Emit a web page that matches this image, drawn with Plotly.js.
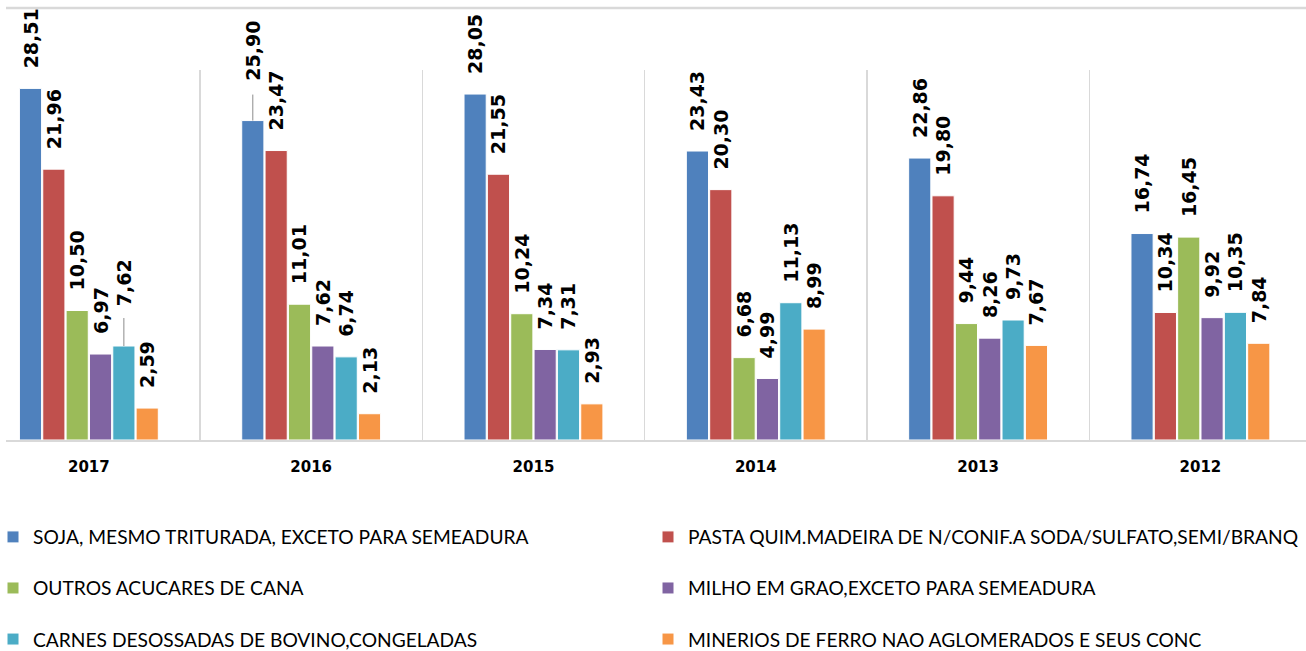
<!DOCTYPE html>
<html>
<head>
<meta charset="utf-8">
<script src="https://cdn.plot.ly/plotly-3.0.1.min.js"></script>
<style>html,body{margin:0;padding:0;background:#fff;}#chart{width:1306px;height:651px;}</style>
</head>
<body>
<div id="chart"></div>
<script>
// ---- data ----
const years = ["2017", "2016", "2015", "2014", "2013", "2012"];
const seriesNames = [
  "SOJA, MESMO TRITURADA, EXCETO PARA SEMEADURA",
  "PASTA QUIM.MADEIRA DE N/CONIF.A SODA/SULFATO,SEMI/BRANQ",
  "OUTROS ACUCARES DE CANA",
  "MILHO EM GRAO,EXCETO PARA SEMEADURA",
  "CARNES DESOSSADAS DE BOVINO,CONGELADAS",
  "MINERIOS DE FERRO NAO AGLOMERADOS E SEUS CONC"
];
const soja     = [28.51, 25.90, 28.05, 23.43, 22.86, 16.74];
const pasta    = [21.96, 23.47, 21.55, 20.30, 19.80, 10.34];
const acucares = [10.50, 11.01, 10.24, 6.68, 9.44, 16.45];
const milho    = [6.97, 7.62, 7.34, 4.99, 8.26, 9.92];
const carnes   = [7.62, 6.74, 7.31, 11.13, 9.73, 10.35];
const minerios = [2.59, 2.13, 2.93, 8.99, 7.67, 7.84];
const seriesValues = [soja, pasta, acucares, milho, carnes, minerios];
const colors = ["#4F81BD", "#C0504D", "#9BBB59", "#8064A2", "#4BACC6", "#F79646"];

// labels that were dragged upward in the original (with a leader line)
const liftedLabels = [
  {series: 0, year: "2016", px: 20},
  {series: 4, year: "2017", px: 22}
];

// ---- build ----
const Y_MAX = 30, PLOT_H = 370;
const pxPerUnit = PLOT_H / Y_MAX;
const NBSP_PX = 6.6;
const PAD = "\u00a0\u00a0\u2009";
function fmt(v) { return v.toFixed(2).replace(".", ","); }
const legendIds = ["legend", "legend", "legend2", "legend2", "legend3", "legend3"];
const labelFont = {family: "DejaVu Sans", size: 19, weight: "bold", color: "#000"};

const traces = seriesValues.map((vals, i) => {
  const lifts = years.map(y => {
    const l = liftedLabels.find(d => d.series === i && d.year === y);
    return l ? l.px : 0;
  });
  const text = vals.map((v, k) => PAD + "\u00a0".repeat(Math.round(lifts[k] / NBSP_PX)) + fmt(v));
  const hasLift = lifts.some(p => p > 0);
  const tr = {
    type: "bar",
    name: seriesNames[i],
    x: years,
    y: vals,
    text: text,
    textposition: "outside",
    textangle: -90,
    constraintext: "none",
    cliponaxis: false,
    textfont: labelFont,
    outsidetextfont: labelFont,
    marker: {color: colors[i], line: {color: "#ffffff", width: 1}},
    legend: legendIds[i],
    legendwidth: 610,
    hoverinfo: "skip"
  };
  if (hasLift) {
    tr.error_y = {
      type: "data", symmetric: false,
      array: lifts.map(p => p > 0 ? (p + 6) / pxPerUnit : 0),
      arrayminus: lifts.map(() => 0),
      color: "#8c8c8c", thickness: 1, width: 0, visible: true
    };
  }
  return tr;
});

const legendBase = {
  orientation: "h",
  x: -0.01,
  xanchor: "left",
  yanchor: "middle",
  entrywidthmode: "pixels",
  itemwidth: 30,
  bgcolor: "rgba(0,0,0,0)",
  font: {family: "Lato", size: 19.2, color: "#000"},
  traceorder: "normal"
};

const layout = {
  width: 1306,
  height: 651,
  margin: {l: 6, r: 0, t: 70, b: 211, autoexpand: false},
  paper_bgcolor: "#ffffff",
  plot_bgcolor: "#ffffff",
  barmode: "group",
  bargap: 0.37,
  bargroupgap: 0.05,
  showlegend: true,
  xaxis: {
    type: "category",
    range: [-0.3727, 5.475],
    tickson: "boundaries",
    ticks: "",
    showgrid: true,
    gridcolor: "#d9d9d9",
    gridwidth: 1.5,
    showline: true,
    linecolor: "#d9d9d9",
    linewidth: 2,
    ticklabelstandoff: 12,
    tickfont: {family: "DejaVu Sans", size: 15, weight: "bold", color: "#000"},
    fixedrange: true
  },
  yaxis: {
    range: [0, Y_MAX],
    showgrid: false,
    showticklabels: false,
    zeroline: false,
    ticks: "",
    fixedrange: true
  },
  legend: Object.assign({}, legendBase, {y: -0.262}),
  legend2: Object.assign({}, legendBase, {y: -0.4}),
  legend3: Object.assign({}, legendBase, {y: -0.538}),
  shapes: [{
    type: "line", xref: "paper", yref: "paper",
    x0: 0, x1: 1, y0: 1.1676, y1: 1.1676,
    line: {color: "#d9d9d9", width: 2.5}
  }]
};

Plotly.newPlot("chart", traces, layout, {displayModeBar: false, staticPlot: true});
</script>
</body>
</html>
